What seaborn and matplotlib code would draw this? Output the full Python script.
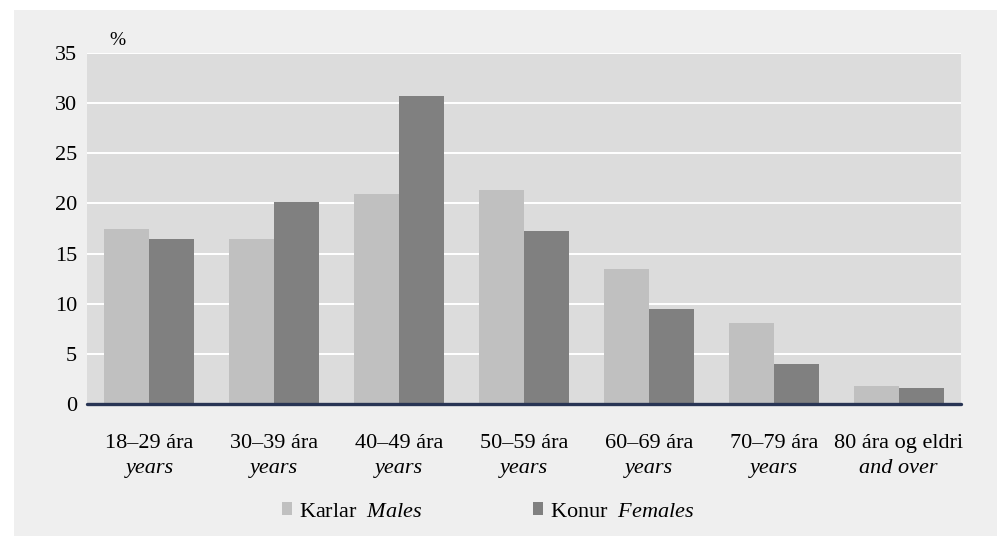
import numpy as np
import pandas as pd
import matplotlib
matplotlib.use("Agg")
import matplotlib.pyplot as plt
from matplotlib.patches import Rectangle, Patch
import seaborn as sns

# -----------------------------
# Data
# -----------------------------
age_groups = ["18–29", "30–39", "40–49", "50–59", "60–69", "70–79", "80+"]
top_labels = ["18–29 ára", "30–39 ára", "40–49 ára", "50–59 ára",
              "60–69 ára", "70–79 ára", "80 ára og eldri"]
bottom_labels = ["years", "years", "years", "years", "years", "years", "and over"]
males = [17.5, 16.5, 20.9, 21.3, 13.5, 8.1, 1.8]
females = [16.5, 20.1, 30.7, 17.3, 9.5, 4.0, 1.6]
series_names = ["Karlar", "Konur"]
series_en = ["Males", "Females"]

df = pd.DataFrame({
    "age": age_groups * 2,
    "value": males + females,
    "sex": [series_names[0]] * len(males) + [series_names[1]] * len(females),
})

# -----------------------------
# Style
# -----------------------------
sns.set_style("white")
plt.rcParams["font.family"] = ["Liberation Serif", "DejaVu Serif"]
plt.rcParams["mathtext.fontset"] = "custom"
plt.rcParams["mathtext.rm"] = "Liberation Serif"
plt.rcParams["mathtext.it"] = "Liberation Serif:italic"
plt.rcParams["text.color"] = "black"
plt.rcParams["ytick.color"] = "black"

male_col = "#c0c0c0"
female_col = "#808080"
panel_bg = "#efefef"
plot_bg = "#dcdcdc"

W, H = 999, 536
fig = plt.figure(figsize=(W / 100, H / 100), dpi=100)
fig.patch.set_facecolor("white")
bg = Rectangle((14 / W, 0), (997 - 14) / W, (536 - 10) / H,
               transform=fig.transFigure, facecolor=panel_bg,
               edgecolor="none", zorder=-10)
fig.add_artist(bg)

ax = fig.add_axes([87 / W, 1 - 404 / H, 874 / W, 351 / H])
ax.set_zorder(5)
ax.set_facecolor(plot_bg)

sns.barplot(data=df, x="age", y="value", hue="sex",
            palette=[male_col, female_col], width=0.72, saturation=1,
            linewidth=0, legend=False, ax=ax, zorder=3)

ax.set_xlim(-0.5, 6.5)
ax.set_ylim(0, 35)
ax.set_yticks(range(0, 36, 5))
ax.yaxis.grid(True, color="white", linewidth=1.4, zorder=1)
ax.set_axisbelow(True)
for s in ax.spines.values():
    s.set_visible(False)
ax.axhline(0, color="#283454", linewidth=2.4, zorder=5, clip_on=False)
ax.tick_params(axis="y", length=0, pad=7, labelsize=16, labelcolor="black")
ax.tick_params(axis="x", length=0, labelbottom=False)
ax.set_xlabel("")
ax.set_ylabel("")

# two-line category labels (second line in italic)
for i, (t, b) in enumerate(zip(top_labels, bottom_labels)):
    ax.text(i, -44 / 351, t, transform=ax.get_xaxis_transform(),
            ha="center", va="baseline", fontsize=16)
    ax.text(i, -69 / 351, b, transform=ax.get_xaxis_transform(),
            ha="center", va="baseline", fontsize=16, style="italic")

ax.text(0.035, 1 + 12 / 351, "%", transform=ax.transAxes,
        ha="center", va="center", fontsize=14)

# legend
handles = [Patch(facecolor=male_col, edgecolor="none"),
           Patch(facecolor=female_col, edgecolor="none")]
labels = [f"{n}  $\\mathit{{{e}}}$" for n, e in zip(series_names, series_en)]
fig.legend(handles, labels, loc="center left",
           bbox_to_anchor=(282 / W, 1 - 512 / H), ncol=2, frameon=False,
           fontsize=16, handlelength=0.45, handleheight=0.5,
           handletextpad=0.3, columnspacing=5.0, borderpad=0,
           borderaxespad=0)

fig.savefig("out.png", dpi=100, facecolor=fig.get_facecolor())
